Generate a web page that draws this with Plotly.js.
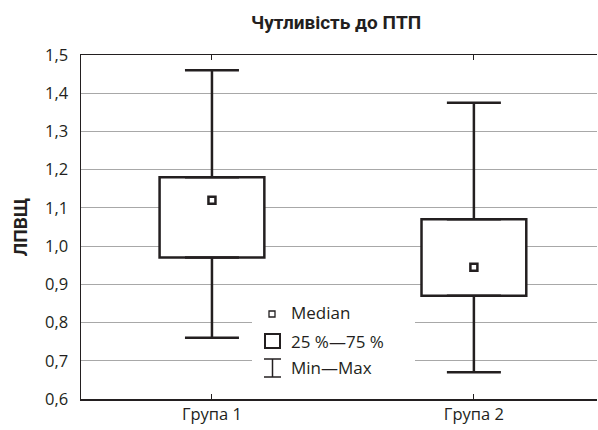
<!DOCTYPE html>
<html>
<head>
<meta charset="utf-8">
<script src="https://cdn.plot.ly/plotly-3.0.1.min.js"></script>
<style>html,body{margin:0;padding:0;background:#fff;}#chart{width:598px;height:430px;}</style>
</head>
<body>
<div id="chart"></div>
<script>
var categories = ['Група 1', 'Група 2'];
var minVals = [0.76, 0.67];
var q1Vals = [0.97, 0.87];
var medianVals = [1.12, 0.945];
var q3Vals = [1.18, 1.07];
var maxVals = [1.46, 1.375];
var yTicks = [0.6, 0.7, 0.8, 0.9, 1.0, 1.1, 1.2, 1.3, 1.4, 1.5];

var dark = '#231f20';
var font = '"Open Sans", "Noto Sans", sans-serif';
var boldFont = '"Liberation Sans Narrow", "Roboto", sans-serif';

var boxTrace = {
  type: 'bar', x: categories,
  base: q1Vals,
  y: q3Vals.map(function(v, i){ return v - q1Vals[i]; }),
  width: 0.4,
  marker: {color: '#ffffff', line: {color: dark, width: 2.5}},
  showlegend: false, hoverinfo: 'skip'
};
var upperWhisker = {
  type: 'scatter', mode: 'markers', x: categories, y: q3Vals,
  marker: {size: 1, opacity: 0},
  error_y: {type: 'data', symmetric: false,
    array: maxVals.map(function(v, i){ return v - q3Vals[i]; }),
    arrayminus: q3Vals.map(function(){ return 0; }),
    width: 27, thickness: 2.5, color: dark},
  showlegend: false, hoverinfo: 'skip'
};
var lowerWhisker = {
  type: 'scatter', mode: 'markers', x: categories, y: q1Vals,
  marker: {size: 1, opacity: 0},
  error_y: {type: 'data', symmetric: false,
    array: q1Vals.map(function(){ return 0; }),
    arrayminus: q1Vals.map(function(v, i){ return v - minVals[i]; }),
    width: 27, thickness: 2.5, color: dark},
  showlegend: false, hoverinfo: 'skip'
};
var medianTrace = {
  type: 'scatter', mode: 'markers', x: categories, y: medianVals,
  marker: {symbol: 'square-open', size: 7, color: dark, line: {width: 2.5, color: dark}},
  showlegend: false, hoverinfo: 'skip'
};

// manual legend (paper coords): plot spans x 81..597, y 55..399 px
function px(x){ return (x - 81) / 516; }
function py(y){ return (399 - y) / 344; }

var shapes = [
  {type:'rect', xref:'paper', yref:'paper', x0:px(252), x1:px(415), y0:py(386), y1:py(294),
   fillcolor:'#ffffff', line:{width:0}, layer:'above'},
  {type:'rect', xref:'paper', yref:'paper', x0:px(269), x1:px(275), y0:py(317), y1:py(311),
   fillcolor:'rgba(0,0,0,0)', line:{color:dark, width:1.3}, layer:'above'},
  {type:'rect', xref:'paper', yref:'paper', x0:px(265), x1:px(280), y0:py(348), y1:py(334),
   fillcolor:'rgba(0,0,0,0)', line:{color:dark, width:2}, layer:'above'},
  {type:'line', xref:'paper', yref:'paper', x0:px(272.5), x1:px(272.5), y0:py(377), y1:py(359),
   line:{color:dark, width:1.5}, layer:'above'},
  {type:'line', xref:'paper', yref:'paper', x0:px(264), x1:px(281), y0:py(359), y1:py(359),
   line:{color:dark, width:1.5}, layer:'above'},
  {type:'line', xref:'paper', yref:'paper', x0:px(264), x1:px(281), y0:py(377), y1:py(377),
   line:{color:dark, width:1.5}, layer:'above'}
];

var legendLabels = ['Median', '25 %\u201475 %', 'Min\u2014Max'];
var legendY = [312, 341, 367];
var annotations = legendLabels.map(function(t, i){
  return {xref:'paper', yref:'paper', x:px(289), y:py(legendY[i]), xanchor:'left', yanchor:'middle',
    text:t, showarrow:false, font:{family:font, size:17, color:dark}};
});

var layout = {
  width: 598, height: 430,
  margin: {l: 81, r: 1, t: 55, b: 31},
  paper_bgcolor: '#ffffff', plot_bgcolor: '#ffffff',
  separators: ', ',
  title: {text: '<b>Чутливість до ПТП</b>', x: 0.562, xanchor: 'center', y: 0.948, yanchor: 'middle',
    font: {family: boldFont, size: 19, color: dark}},
  xaxis: {
    type: 'category', range: [-0.5, 1.47],
    showgrid: false, zeroline: false,
    showline: true, linecolor: dark, linewidth: 1.5, mirror: 'ticks',
    ticks: 'inside', ticklen: 5, tickcolor: dark, tickwidth: 1,
    tickfont: {family: font, size: 16.5, color: dark}
  },
  yaxis: {
    range: [0.6, 1.5], tickvals: yTicks, tickformat: '.1f',
    showgrid: true, gridcolor: '#a8a8a8', gridwidth: 1, zeroline: false,
    showline: true, linecolor: dark, linewidth: 1.5,
    ticks: '', ticklabelstandoff: 8,
    tickfont: {family: font, size: 16.5, color: dark},
    title: {text: '<b>ЛПВЩ</b>', standoff: 12,
      font: {family: boldFont, size: 19, color: dark}}
  },
  shapes: shapes,
  annotations: annotations,
  showlegend: false
};

Plotly.newPlot('chart', [boxTrace, upperWhisker, lowerWhisker, medianTrace], layout, {displayModeBar: false, staticPlot: true});
</script>
</body>
</html>
